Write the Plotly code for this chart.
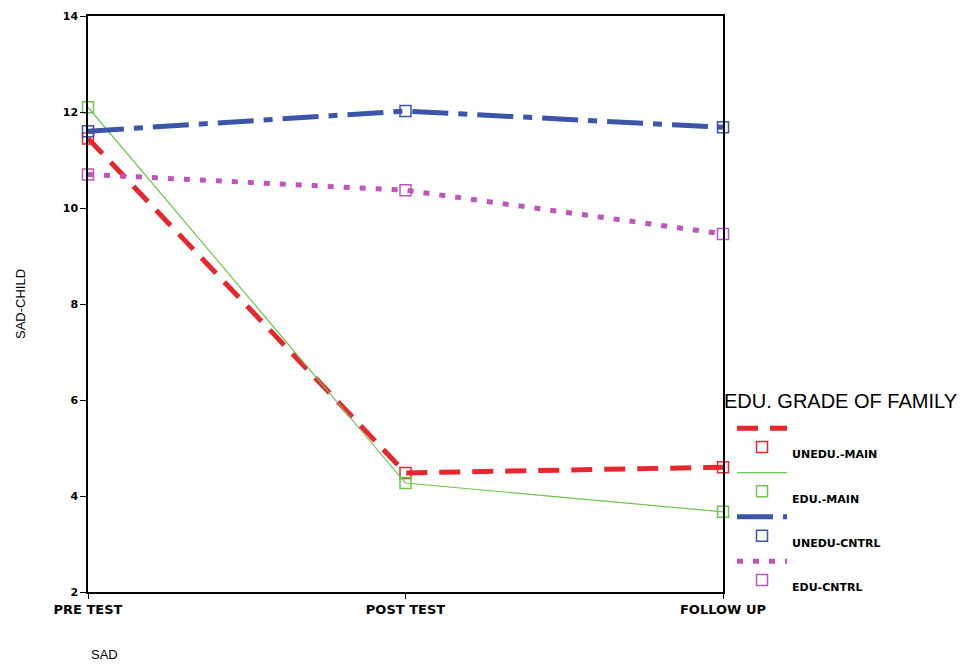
import plotly.graph_objects as go

categories = ["PRE TEST", "POST TEST", "FOLLOW UP"]
unedu_main = [11.45, 4.48, 4.60]
edu_main = [12.10, 4.27, 3.67]
unedu_cntrl = [11.60, 12.02, 11.68]
edu_cntrl = [10.70, 10.37, 9.46]
series_names = ["UNEDU.-MAIN", "EDU.-MAIN", "UNEDU-CNTRL", "EDU-CNTRL"]
y_ticks = [2, 4, 6, 8, 10, 12, 14]
legend_title = "EDU. GRADE OF FAMILY"
x_title = "SAD"
y_title = "SAD-CHILD"

series = [unedu_main, edu_main, unedu_cntrl, edu_cntrl]
colors = ["#e8262e", "#6ec64e", "#3b55a8", "#bd55bb"]
widths = [5, 1.2, 5, 5]
dashes = ["21px,12px", "solid", "36px,10px,9px,10px", "6px,10px"]

BOLD = "DejaVu Sans, Verdana, sans-serif"

fig = go.Figure()
for vals, name, c, w, d in zip(series, series_names, colors, widths, dashes):
    fig.add_trace(go.Scatter(
        x=categories, y=vals, mode="lines+markers", showlegend=False,
        line=dict(color=c, width=w, dash=d),
        marker=dict(symbol="square-open", size=11, color=c, line=dict(width=1.5, color=c)),
        cliponaxis=False,
    ))
# legend: line samples (legend) and marker + label rows (legend2)
for i, (name, c, w, d) in enumerate(zip(series_names, colors, widths, dashes)):
    fig.add_trace(go.Scatter(
        x=[None], y=[None], mode="lines", name=" ", legend="legend",
        legendgroup=f"l{i}", line=dict(color=c, width=w, dash=d),
    ))
    fig.add_trace(go.Scatter(
        x=[None], y=[None], mode="markers", name="<br>" + name, legend="legend2",
        legendgroup=f"m{i}",
        marker=dict(symbol="square-open", size=11, color=c, line=dict(width=1.5, color=c)),
    ))

fig.update_layout(
    width=960, height=658,
    margin=dict(l=80, r=245, t=8, b=74),
    paper_bgcolor="white", plot_bgcolor="white",
    font=dict(family="Liberation Sans, Arial, sans-serif", color="black"),
    xaxis=dict(
        type="category", range=[0, 2], showgrid=False, zeroline=False, automargin=False,
        showline=True, mirror=True, linecolor="black", linewidth=1.5,
        ticks="outside", ticklen=5, tickcolor="black",
        tickfont=dict(size=13, family=BOLD, weight="bold"),
    ),
    yaxis=dict(
        range=[2, 14], tickvals=y_ticks, showgrid=False, zeroline=False, automargin=False,
        showline=True, mirror=True, linecolor="black", linewidth=1.5,
        ticks="outside", ticklen=6, tickcolor="black",
        tickfont=dict(size=11, family=BOLD, weight="bold"),
        title=dict(text=y_title, font=dict(size=13), standoff=34),
    ),
    legend=dict(
        x=1.0142, xanchor="left", y=0.3095, yanchor="top",
        font=dict(size=11, family=BOLD, weight="bold"),
        tracegroupgap=25.3, itemwidth=50, bgcolor="rgba(0,0,0,0)",
    ),
    legend2=dict(
        x=1.0142, xanchor="left", y=0.2878, yanchor="top",
        font=dict(size=11, family=BOLD, weight="bold"),
        tracegroupgap=12.7, itemwidth=50, bgcolor="rgba(0,0,0,0)",
    ),
    annotations=[
        dict(text=x_title, xref="paper", yref="paper", x=0.026, y=-0.109,
             xanchor="center", yanchor="middle", showarrow=False, font=dict(size=13)),
        dict(text=legend_title, xref="paper", yref="paper", x=0.9985, y=0.3316,
             xanchor="left", yanchor="middle", showarrow=False, font=dict(size=20)),
    ],
)

fig.write_html("out.html")
